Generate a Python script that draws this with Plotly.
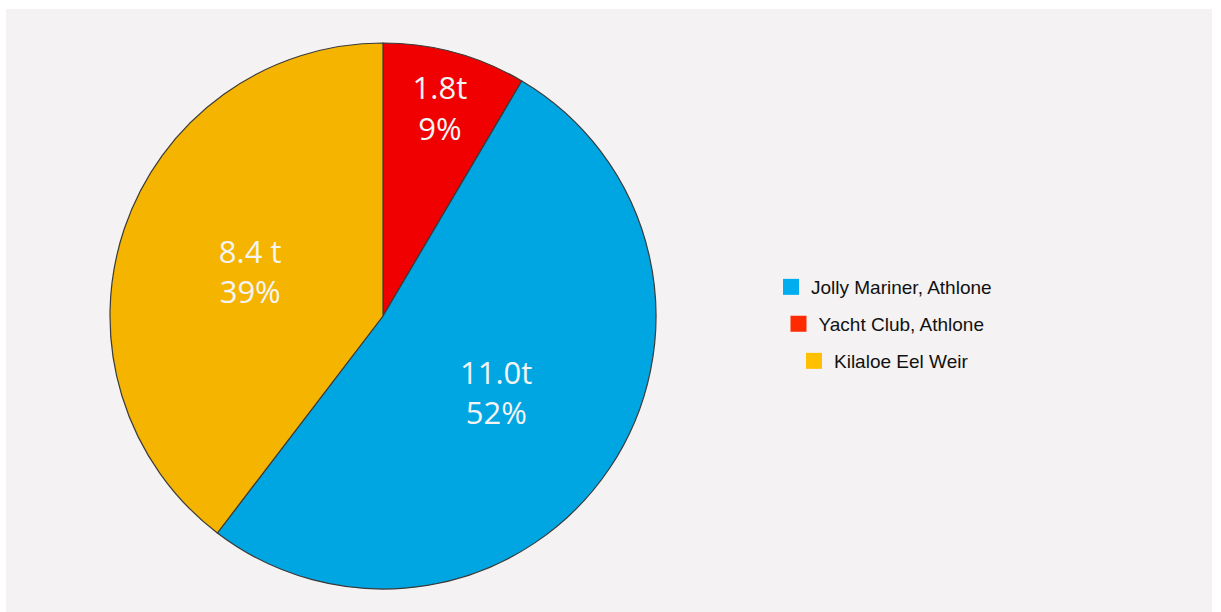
import plotly.graph_objects as go

# Eel catch by site (tonnes)
sites = ["Yacht Club, Athlone", "Jolly Mariner, Athlone", "Kilaloe Eel Weir"]
tonnes = [1.8, 11.0, 8.4]
tonne_labels = ["1.8t", "11.0t", "8.4 t"]
share_labels = ["9%", "52%", "39%"]
slice_colors = ["#f00000", "#00a6e2", "#f4b400"]

# Legend order and swatch colours
legend_sites = ["Jolly Mariner, Athlone", "Yacht Club, Athlone", "Kilaloe Eel Weir"]
legend_colors = ["#00aeef", "#ff2a00", "#ffc000"]

W, H = 1221, 612
cx, cy, r = 383, 316, 273

fig = go.Figure()

fig.add_trace(go.Pie(
    labels=sites,
    values=tonnes,
    text=[f"{t}<br>{s}" for t, s in zip(tonne_labels, share_labels)],
    texttemplate="%{text}",
    textposition="inside",
    insidetextorientation="horizontal",
    textfont=dict(family="Open Sans", size=31, color="#f4f4f4"),
    marker=dict(colors=slice_colors, line=dict(color="#3a3a3a", width=1.2)),
    sort=False,
    direction="clockwise",
    rotation=0,
    showlegend=False,
    hoverinfo="label+value+percent",
    domain=dict(x=[(cx - r) / W, (cx + r) / W],
                y=[(H - cy - r) / H, (H - cy + r) / H]),
))

# One centred legend per site
legend_rows_y = [(H - 287) / H, (H - 324) / H, (H - 361) / H]
legend_keys = ["legend", "legend2", "legend3"]
for name, col, key in zip(legend_sites, legend_colors, legend_keys):
    fig.add_trace(go.Scatter(
        x=[None], y=[None], mode="markers", name=name,
        marker=dict(symbol="square", size=16, color=col),
        legend=key, showlegend=True, hoverinfo="skip",
    ))

legend_style = dict(
    xanchor="center", yanchor="middle", x=884 / W,
    bgcolor="rgba(0,0,0,0)", borderwidth=0,
    font=dict(family="Liberation Sans", size=19, color="#111111"),
    itemwidth=30, tracegroupgap=0,
)
layout_legends = {}
for key, yy in zip(legend_keys, legend_rows_y):
    layout_legends[key] = dict(legend_style, y=yy)

fig.update_layout(
    width=W, height=H,
    margin=dict(l=0, r=0, t=0, b=0),
    paper_bgcolor="#ffffff",
    plot_bgcolor="rgba(0,0,0,0)",
    xaxis=dict(visible=False),
    yaxis=dict(visible=False),
    shapes=[dict(type="rect", xref="paper", yref="paper",
                 x0=6 / W, x1=1212 / W, y0=0, y1=(H - 9) / H,
                 fillcolor="#f4f2f2", line=dict(width=0), layer="below")],
    **layout_legends,
)

fig.write_html("out.html")
